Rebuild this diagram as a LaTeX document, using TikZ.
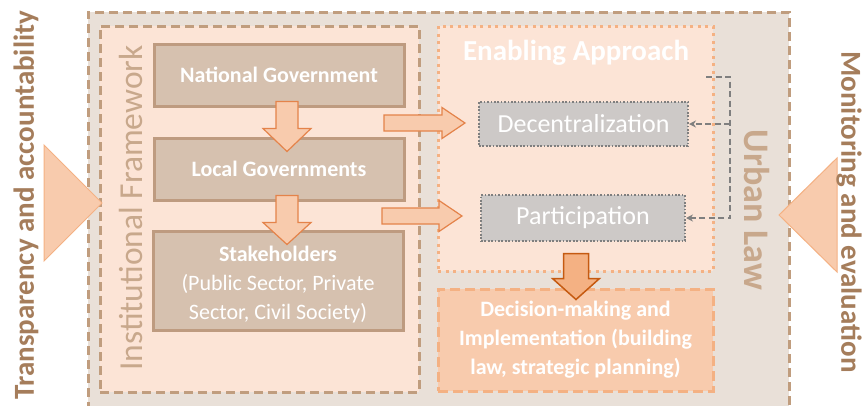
\documentclass[tikz,border=0pt]{standalone}
\usepackage{fontspec}
\setmainfont{Carlito}
\usetikzlibrary{arrows.meta,calc}

\definecolor{frameBrown}{HTML}{C09D7E}
\definecolor{outerFill}{HTML}{E9E0D8}
\definecolor{peach}{HTML}{FCE4D6}
\definecolor{boxFill}{HTML}{D6C1AF}
\definecolor{boxLine}{HTML}{BE9B80}
\definecolor{labelBrown}{HTML}{A57D5B}
\definecolor{softBrown}{HTML}{C8A88C}
\definecolor{lightOrange}{HTML}{F8CBAD}
\definecolor{midOrange}{HTML}{F4B183}
\definecolor{deepOrange}{HTML}{C55A11}
\definecolor{accentOrange}{HTML}{E4834A}
\definecolor{greyFill}{HTML}{CDC9C7}
\definecolor{greyLine}{HTML}{7F7F7F}

\newcommand{\fsz}[2]{\fontsize{#1}{#2}\selectfont}

\tikzset{
  urbanframe/.style={draw=frameBrown, fill=outerFill, line width=3pt,
    dash pattern=on 9pt off 5pt, inner sep=0pt},
  instframe/.style={draw=frameBrown, fill=peach, line width=3pt,
    dash pattern=on 9pt off 5pt, inner sep=0pt},
  enableframe/.style={draw=midOrange, fill=peach, line width=3pt,
    dash pattern=on 3pt off 4.5pt, inner sep=0pt},
  govbox/.style={draw=boxLine, fill=boxFill, line width=3pt, text=white,
    inner sep=0pt, align=center, font=\fsz{22}{29}},
  govtext/.style={text=white, align=center, font=\fsz{22}{29}},
  toolbox/.style={draw=greyLine, fill=greyFill, line width=2pt,
    dash pattern=on 1.7pt off 1.7pt, text=white, inner sep=0pt,
    font=\fsz{26}{30}},
  outcomebox/.style={draw=midOrange, fill=lightOrange, line width=3pt,
    dash pattern=on 10pt off 5pt, text=white, inner sep=0pt,
    align=center, font=\bfseries\fsz{22}{29}},
  sidelabel/.style={text=labelBrown, font=\bfseries\fsz{29}{32}},
  framelabel/.style={text=softBrown, font=\fsz{33.5}{36}},
  flowarrow/.style={draw=accentOrange, fill=lightOrange, line width=1.2pt,
    line join=miter},
  resultarrow/.style={draw=deepOrange, fill=midOrange, line width=1.5pt,
    line join=miter},
  wedge/.style={draw=midOrange, fill=lightOrange, line width=1pt},
  feedback/.style={draw=greyLine, line width=2pt, dash pattern=on 6pt off 3.5pt,
    -{Stealth[length=7pt,width=7pt]}},
  % block arrow pointing down: length / shaft half width / head half width / head length
  pics/downblock/.style args={#1/#2/#3/#4}{code={
    \path[pic actions] (-#2,0) -- (#2,0) -- (#2,#1-#4) -- (#3,#1-#4) -- (0,#1)
      -- (-#3,#1-#4) -- (-#2,#1-#4) -- cycle;}},
  % block arrow pointing right: length / shaft half height / head half height / head length
  pics/rightblock/.style args={#1/#2/#3/#4}{code={
    \path[pic actions] (0,-#2) -- (#1-#4,-#2) -- (#1-#4,-#3) -- (#1,0)
      -- (#1-#4,#3) -- (#1-#4,#2) -- (0,#2) -- cycle;}},
}

\begin{document}
\begin{tikzpicture}[x=1pt,y=-1pt]
\useasboundingbox (0,0) rectangle (863,405);
\clip (0,0) rectangle (863,405);
\fill[white] (0,0) rectangle (863,405);

% containers
\node[urbanframe, minimum width=701pt, minimum height=420pt] (urban) at (438.5,222) {};
\node[instframe, minimum width=319pt, minimum height=366pt] (inst) at (259.5,209) {};
\node[enableframe, minimum width=275pt, minimum height=245pt] (enable) at (575.5,148.5) {};
\node[outcomebox, minimum width=275pt, minimum height=102pt] (decision) at (575.5,340)
  {Decision-making and\\Implementation (building\\law, strategic planning)};

% frame titles
\node[framelabel, rotate=90] (instlabel) at (131,208) {Institutional Framework};
\node[framelabel, font=\bfseries\fsz{36}{38}, rotate=-90] (urbanlabel) at (757,210) {Urban Law};
\node[text=white, font=\bfseries\fsz{29}{32}] (enabletitle) at (576,53) {Enabling Approach};

% institutional chain
\node[govbox, font=\bfseries\fsz{22}{29}, minimum width=250pt, minimum height=62pt] (ng) at (279,75) {National Government};
\node[govbox, font=\bfseries\fsz{22}{29}, minimum width=250pt, minimum height=62pt] (lg) at (279,169) {Local Governments};
\node[govbox, minimum width=250pt, minimum height=99pt,
  label={[govtext, yshift=-4pt]center:{\textbf{Stakeholders}\\(Public Sector, Private\\Sector, Civil Society)}}]
  (sh) at (278,280.5) {};

% enabling tools
\node[toolbox, minimum width=209pt, minimum height=44pt] (dec) at (583.5,124) {Decentralization};
\node[toolbox, minimum width=204pt, minimum height=46pt] (par) at (583,218) {Participation};

% block arrows along the chain
\pic[flowarrow] at ($(ng.south)+(8,-6)$) {downblock=50/11/24/23};
\pic[flowarrow] at ($(lg.south)+(8,-6)$) {downblock=49/11/24/22};
\pic[flowarrow] at ($(dec.west)+(-94,-1)$) {rightblock=81/8/15.5/23};
\pic[flowarrow] at ($(par.west)+(-98,-2)$) {rightblock=80/8/15.5/23};
\pic[resultarrow] at ($(enable.south)+(0.5,-19)$) {downblock=46/12.5/23.5/21};

% side wedges
\path[wedge] (44,145) -- (102,203) -- (44,261) -- cycle;
\path[wedge] (837,158) -- (779,215) -- (837,272) -- cycle;

% side labels
\node[sidelabel, rotate=90] (transp) at (26,205) {Transparency and accountability};
\node[sidelabel, rotate=-90] (monitor) at (849,212) {Monitoring and evaluation};

% feedback loop of the urban law onto the enabling tools
\coordinate (fbstart) at (706,77);
\coordinate (rail) at (730,77);
\draw[feedback] (fbstart) -- (rail) |- (par.east);
\draw[feedback] (rail |- dec.east) -- (dec.east);
\end{tikzpicture}
\end{document}
